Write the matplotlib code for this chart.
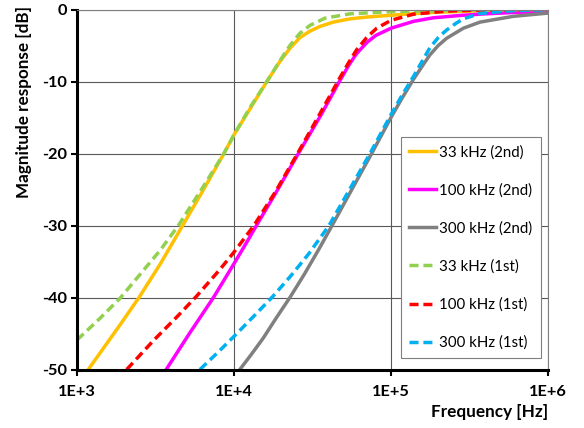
import numpy as np
import matplotlib
matplotlib.use('Agg')
import matplotlib.pyplot as plt

plt.rcParams['font.family'] = ['Lato', 'DejaVu Sans']

## -- values (frequency in Hz, magnitude in dB)
f_33k_2nd = [1180, 1880, 2500, 3400, 4710, 6400, 8630, 10000, 12650, 16200, 19500,
             22700, 26300, 30500, 35300, 42900, 54800, 70000, 100000, 185000, 400000, 1000000]
db_33k_2nd = [-50, -43.8, -39.9, -35.3, -30, -25, -20, -17.4, -13.8, -10, -7.3,
              -5.4, -3.9, -3.0, -2.35, -1.75, -1.3, -1.05, -0.8, -0.4, -0.15, -0.05]

f_100k_2nd = [3700, 5200, 7400, 10000, 12300, 13900, 19000, 25700, 35500, 46900, 54000,
              60000, 70000, 80000, 100000, 139000, 186000, 287000, 400000, 600000, 1000000]
db_100k_2nd = [-50, -45, -40, -35.3, -32, -30, -25, -20, -14.8, -10, -7.7,
               -6.2, -4.6, -3.6, -2.6, -1.65, -1.15, -0.8, -0.6, -0.42, -0.3]

f_300k_2nd = [10900, 13000, 15400, 18500, 22700, 28000, 34500, 41900, 55000, 75300,
              100000, 117000, 139000, 160000, 177000, 200000, 226000, 289000, 369000,
              601000, 1000000]
db_300k_2nd = [-50, -47.8, -45.6, -42.9, -40, -36.8, -33.4, -30.1, -25.4, -20,
               -15.0, -12.4, -9.7, -7.7, -6.3, -5.0, -4.0, -2.6, -1.75,
               -0.95, -0.5]

f_33k_1st = [1000, 1400, 1880, 2520, 3400, 4420, 6200, 8630, 10000, 12650, 16200,
             19500, 22700, 26300, 30500, 38000, 54800, 100000, 300000, 1000000]
db_33k_1st = [-45.9, -42.9, -40.1, -36.8, -33.4, -30, -25, -20, -17.4, -13.6, -10,
              -7.2, -5.0, -3.3, -2.2, -1.2, -0.6, -0.3, -0.1, 0]

f_100k_1st = [2073, 3062, 4415, 5785, 8140, 10000, 13400, 18500, 25700, 35000, 46900,
              54000, 60400, 70000, 81100, 100000, 139000, 226000, 369000, 1000000]
db_100k_1st = [-50, -46.0, -42.5, -39.8, -36.1, -33.7, -30, -25.2, -19.8, -14.6, -9.6,
               -7.3, -5.6, -3.9, -2.6, -1.5, -0.65, -0.22, -0.08, 0]

f_300k_1st = [6070, 8000, 10000, 13500, 17600, 23000, 30000, 40300, 53500, 73500, 100000,
              117000, 139000, 177000, 200000, 226000, 260000, 289000, 369000, 600000, 1000000]
db_300k_1st = [-50, -47.5, -45.4, -42.5, -39.9, -37.0, -33.9, -30, -25.3, -20, -14.6,
               -12.0, -9.3, -5.3, -3.9, -2.85, -1.9, -1.3, -0.55, -0.15, -0.05]

x_ticks = [1e3, 1e4, 1e5, 1e6]
x_ticklabels = ["1E+3", "1E+4", "1E+5", "1E+6"]
y_ticks = [-50, -40, -30, -20, -10, 0]

fig = plt.figure(figsize=(5.84, 4.28), dpi=100)
ax = fig.add_axes([77/584, 1 - 369.5/428, (548 - 77)/584, (369.5 - 9.5)/428])

lw = 2.5
dash = (2.6, 1.4)
ax.plot(f_33k_2nd, db_33k_2nd, color="#FFC000", lw=lw, label="33 kHz (2nd)")
ax.plot(f_100k_2nd, db_100k_2nd, color="#FF00FF", lw=lw, label="100 kHz (2nd)")
ax.plot(f_300k_2nd, db_300k_2nd, color="#808080", lw=lw, label="300 kHz (2nd)")
ax.plot(f_33k_1st, db_33k_1st, color="#92D050", lw=lw, dashes=dash, label="33 kHz (1st)")
ax.plot(f_100k_1st, db_100k_1st, color="#FF0000", lw=lw, dashes=dash, label="100 kHz (1st)")
ax.plot(f_300k_1st, db_300k_1st, color="#00B0F0", lw=lw, dashes=dash, label="300 kHz (1st)")

ax.set_xscale("log")
ax.set_xlim(1e3, 1e6)
ax.set_ylim(-50, 0)
ax.set_xticks(x_ticks)
ax.set_xticklabels(x_ticklabels)
ax.xaxis.set_minor_locator(matplotlib.ticker.NullLocator())
ax.set_yticks(y_ticks)
ax.set_yticklabels([str(v) for v in y_ticks])

ax.grid(True, which="major", color="#595959", lw=0.8)
ax.set_axisbelow(True)

for s in ["top", "right"]:
	ax.spines[s].set_color("#7f7f7f")
	ax.spines[s].set_linewidth(0.8)
for s in ["left", "bottom"]:
	ax.spines[s].set_color("black")
	ax.spines[s].set_linewidth(2.2)

ax.tick_params(axis="both", direction="out", length=4, width=1.5, color="black")
ax.tick_params(axis="y", pad=3)
ax.tick_params(axis="x", pad=7)
for t in ax.get_xticklabels() + ax.get_yticklabels():
	t.set_fontsize(11.8)
	t.set_fontweight("bold")

fig.text(24/584, 1 - 102/428, "Magnitude response [dB]", rotation=90, fontsize=12.3,
         fontweight="bold", ha="center", va="center")
fig.text(548/584, 1 - 412/428, "Frequency [Hz]", fontsize=12.3, fontweight="bold",
         ha="right", va="center")

leg = ax.legend(loc="upper left", bbox_to_anchor=(401/584, 1 - 137/428),
                bbox_transform=fig.transFigure, fontsize=10.8, frameon=True,
                fancybox=False, handlelength=1.8, handletextpad=0.2,
                labelspacing=1.58, borderpad=0.55, borderaxespad=0)
leg.get_frame().set_edgecolor("#7f7f7f")
leg.get_frame().set_linewidth(0.8)
leg.get_frame().set_alpha(1)

plt.savefig("out.png", dpi=100)
